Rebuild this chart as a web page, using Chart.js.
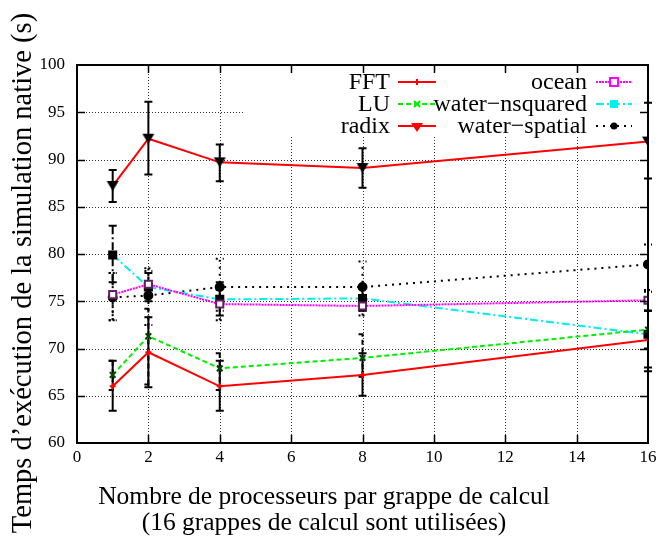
<!DOCTYPE html>
<html>
<head>
<meta charset="utf-8">
<script src="https://cdn.jsdelivr.net/npm/chart.js@4.4.0/dist/chart.umd.min.js"></script>
<style>
  html, body { margin: 0; padding: 0; background: #fff; }
  #wrap { width: 662px; height: 544px; }
</style>
</head>
<body>
<div id="wrap"><canvas id="myChart" width="662" height="544"></canvas></div>
<script>
// processors per cluster
const procs = [1, 2, 4, 8, 16];
const xTicks = [0, 2, 4, 6, 8, 10, 12, 14, 16];
const yTicks = [60, 65, 70, 75, 80, 85, 90, 95, 100];

const fft     = [66.0, 69.6, 66.0, 67.2, 70.9];
const fftLow  = [63.4, 65.9, 63.4, 65.0, 67.6];
const fftHigh = [68.7, 73.3, 68.7, 69.5, 74.0];

const lu     = [67.2, 71.3, 67.9, 69.0, 72.0];
const luLow  = [65.6, 66.2, 65.6, 67.0, 70.0];
const luHigh = [68.7, 74.2, 69.5, 71.5, 74.0];

const radix     = [87.2, 92.2, 89.7, 89.1, 91.9];
const radixLow  = [85.5, 88.4, 87.7, 87.0, 88.0];
const radixHigh = [88.9, 96.1, 91.6, 91.2, 96.0];

const ocean     = [75.7, 76.8, 74.7, 74.5, 75.1];
const oceanLow  = [73.0, 75.3, 73.0, 73.5, 74.0];
const oceanHigh = [78.0, 78.5, 76.2, 75.6, 76.2];

const nsq     = [79.9, 76.5, 75.2, 75.3, 71.5];
const nsqLow  = [77.0, 75.0, 73.5, 74.0, 68.0];
const nsqHigh = [83.0, 78.0, 77.0, 76.5, 74.0];

const spatial     = [75.4, 75.6, 76.5, 76.5, 78.9];
const spatialLow  = [73.0, 72.5, 74.0, 74.0, 76.0];
const spatialHigh = [78.0, 78.2, 79.5, 79.2, 81.0];

const serif = "'Liberation Serif', 'DejaVu Serif', serif";

function pts(vals) {
    return procs.map((p, i) => ({ x: p, y: vals[i] }));
}

function downTriangle() {
    let c = document.createElement('canvas');
    c.width = 14; c.height = 14;
    let g = c.getContext('2d');
    g.fillStyle = '#000';
    g.beginPath();
    g.moveTo(1, 2); g.lineTo(13, 2); g.lineTo(7, 12); g.closePath();
    g.fill();
    return c;
}

const series = [
    { label: 'FFT', data: fft, low: fftLow, high: fftHigh, color: '#ff0000', dash: [],
      point: 'cross', radius: 3, pfill: '#ff0000', pborder: '#ff0000' },
    { label: 'LU', data: lu, low: luLow, high: luHigh, color: '#00ee00', dash: [5, 3],
      point: 'crossRot', radius: 4, pfill: '#006600', pborder: '#004400' },
    { label: 'radix', data: radix, low: radixLow, high: radixHigh, color: '#ff0000', dash: [],
      point: downTriangle(), radius: 6, pfill: '#000', pborder: '#000' },
    { label: 'ocean', data: ocean, low: oceanLow, high: oceanHigh, color: '#ff00ff', dash: [2, 1],
      point: 'rect', radius: 5, pfill: '#fff', pborder: '#602060' },
    { label: 'water\u2212nsquared', data: nsq, low: nsqLow, high: nsqHigh, color: '#00eeee', dash: [8, 3, 2, 3],
      point: 'rect', radius: 5, pfill: '#000', pborder: '#000' },
    { label: 'water\u2212spatial', data: spatial, low: spatialLow, high: spatialHigh, color: '#000000', dash: [2, 5],
      point: 'circle', radius: 4, pfill: '#000', pborder: '#000' }
];

// legend sample markers in series colours
const legendMarks = ['plus', 'x', 'tri', 'osq', 'sq', 'dot'];

const legendBox = { left: 245, bottom: 137 };

const frame = {
    id: 'frame',
    beforeDatasetsDraw(chart) {
        const ctx = chart.ctx;
        const a = chart.chartArea;
        const xs = chart.scales.x, ys = chart.scales.y;
        ctx.save();
        // dotted grid
        ctx.strokeStyle = '#333';
        ctx.lineWidth = 1;
        ctx.setLineDash([1, 2]);
        xTicks.slice(1, -1).forEach(t => {
            let px = Math.round(xs.getPixelForValue(t)) + 0.5;
            ctx.beginPath(); ctx.moveTo(px, a.top); ctx.lineTo(px, a.bottom); ctx.stroke();
        });
        yTicks.slice(1, -1).forEach(t => {
            let py = Math.round(ys.getPixelForValue(t)) + 0.5;
            ctx.beginPath(); ctx.moveTo(a.left, py); ctx.lineTo(a.right, py); ctx.stroke();
        });
        ctx.setLineDash([]);
        // key background
        ctx.fillStyle = '#fff';
        ctx.fillRect(legendBox.left, a.top, a.right - legendBox.left, legendBox.bottom - a.top);

        // error bars
        series.forEach(s => {
            ctx.strokeStyle = '#000';
            ctx.lineWidth = 2;
            ctx.setLineDash(s.dash.length ? s.dash.map(v => Math.max(v, 2)) : []);
            procs.forEach((p, i) => {
                let px = xs.getPixelForValue(p);
                let y1 = ys.getPixelForValue(s.low[i]);
                let y2 = ys.getPixelForValue(s.high[i]);
                ctx.beginPath(); ctx.moveTo(px, y1); ctx.lineTo(px, y2); ctx.stroke();
                ctx.beginPath();
                ctx.moveTo(px - 4, y1); ctx.lineTo(px + 4, y1);
                ctx.moveTo(px - 4, y2); ctx.lineTo(px + 4, y2);
                ctx.stroke();
            });
        });
        ctx.setLineDash([]);

        // legend
        ctx.font = '24px ' + serif;
        ctx.textAlign = 'right';
        ctx.textBaseline = 'middle';
        const cols = [{ textRight: 390, x1: 398, x2: 436 }, { textRight: 587, x1: 596, x2: 632 }];
        const rows = [82, 104, 126];
        series.forEach((s, k) => {
            let col = cols[Math.floor(k / 3)];
            let y = rows[k % 3];
            ctx.fillStyle = '#000';
            ctx.fillText(s.label, col.textRight, y + 1);
            ctx.strokeStyle = s.color;
            ctx.lineWidth = 2;
            ctx.setLineDash(s.dash);
            ctx.beginPath(); ctx.moveTo(col.x1, y); ctx.lineTo(col.x2, y); ctx.stroke();
            ctx.setLineDash([]);
            let mx = (col.x1 + col.x2) / 2;
            ctx.fillStyle = s.color;
            ctx.strokeStyle = s.color;
            let m = legendMarks[k];
            if (m === 'plus') {
                ctx.beginPath(); ctx.moveTo(mx, y - 3); ctx.lineTo(mx, y + 3); ctx.stroke();
            } else if (m === 'x') {
                ctx.beginPath();
                ctx.moveTo(mx - 3, y - 3); ctx.lineTo(mx + 3, y + 3);
                ctx.moveTo(mx + 3, y - 3); ctx.lineTo(mx - 3, y + 3);
                ctx.stroke();
            } else if (m === 'tri') {
                ctx.beginPath(); ctx.moveTo(mx - 6, y - 3); ctx.lineTo(mx + 6, y - 3); ctx.lineTo(mx, y + 6); ctx.closePath(); ctx.fill();
            } else if (m === 'osq') {
                ctx.lineWidth = 2;
                ctx.fillStyle = '#fff';
                ctx.fillRect(mx - 4, y - 4, 8, 8);
                ctx.strokeRect(mx - 4, y - 4, 8, 8);
            } else if (m === 'sq') {
                ctx.fillRect(mx - 4, y - 4, 8, 8);
            } else {
                ctx.fillStyle = '#000';
                ctx.beginPath(); ctx.arc(mx, y, 3.5, 0, Math.PI * 2); ctx.fill();
            }
        });
        ctx.restore();
    },
    afterDatasetsDraw(chart) {
        const ctx = chart.ctx;
        const a = chart.chartArea;
        const xs = chart.scales.x, ys = chart.scales.y;
        ctx.save();
        ctx.strokeStyle = '#000';
        ctx.lineWidth = 1.5;
        ctx.beginPath();
        xTicks.slice(1, -1).forEach(t => {
            let px = Math.round(xs.getPixelForValue(t)) + 0.5;
            ctx.moveTo(px, a.bottom); ctx.lineTo(px, a.bottom - 8);
            ctx.moveTo(px, a.top); ctx.lineTo(px, a.top + 8);
        });
        yTicks.slice(1, -1).forEach(t => {
            let py = Math.round(ys.getPixelForValue(t)) + 0.5;
            ctx.moveTo(a.left, py); ctx.lineTo(a.left + 8, py);
            ctx.moveTo(a.right, py); ctx.lineTo(a.right - 8, py);
        });
        ctx.stroke();
        ctx.lineWidth = 2;
        ctx.strokeRect(a.left, a.top, a.right - a.left, a.bottom - a.top);

        // axis titles
        ctx.fillStyle = '#000';
        ctx.font = '25.5px ' + serif;
        ctx.textAlign = 'center';
        ctx.textBaseline = 'middle';
        ctx.fillText('Nombre de processeurs par grappe de calcul', 324, 497);
        ctx.fillText('(16 grappes de calcul sont utilisées)', 324, 523);
        ctx.font = '28.5px ' + serif;
        ctx.translate(24, 273);
        ctx.rotate(-Math.PI / 2);
        ctx.fillText('Temps d\u2019exécution de la simulation native (s)', 0, 0);
        ctx.restore();
    }
};

const ctx = document.getElementById('myChart');

const myChart = new Chart(ctx, {
    type: 'line',
    data: {
        datasets: series.map(s => ({
            label: s.label,
            data: pts(s.data),
            borderColor: s.color,
            borderWidth: 2,
            borderDash: s.dash,
            fill: false,
            tension: 0,
            pointStyle: s.point,
            pointRadius: s.radius,
            pointBackgroundColor: s.pfill,
            pointBorderColor: s.pborder,
            pointBorderWidth: 2
        }))
    },
    options: {
        responsive: false,
        animation: false,
        devicePixelRatio: 1,
        layout: { padding: { top: 65, right: 14, left: 0, bottom: 0 } },
        plugins: {
            legend: { display: false },
            tooltip: { enabled: false }
        },
        scales: {
            x: {
                type: 'linear',
                min: 0,
                max: 16,
                grid: { display: false, drawTicks: false },
                border: { display: false },
                ticks: {
                    stepSize: 2,
                    padding: 4,
                    color: '#000',
                    maxRotation: 0,
                    font: { family: serif, size: 17 }
                },
                afterFit(scale) { scale.height = 101; }
            },
            y: {
                min: 60,
                max: 100,
                grid: { display: false, drawTicks: false },
                border: { display: false },
                ticks: {
                    stepSize: 5,
                    padding: 12,
                    color: '#000',
                    font: { family: serif, size: 17 }
                },
                afterFit(scale) { scale.width = 77; }
            }
        }
    },
    plugins: [frame]
});
</script>
</body>
</html>
